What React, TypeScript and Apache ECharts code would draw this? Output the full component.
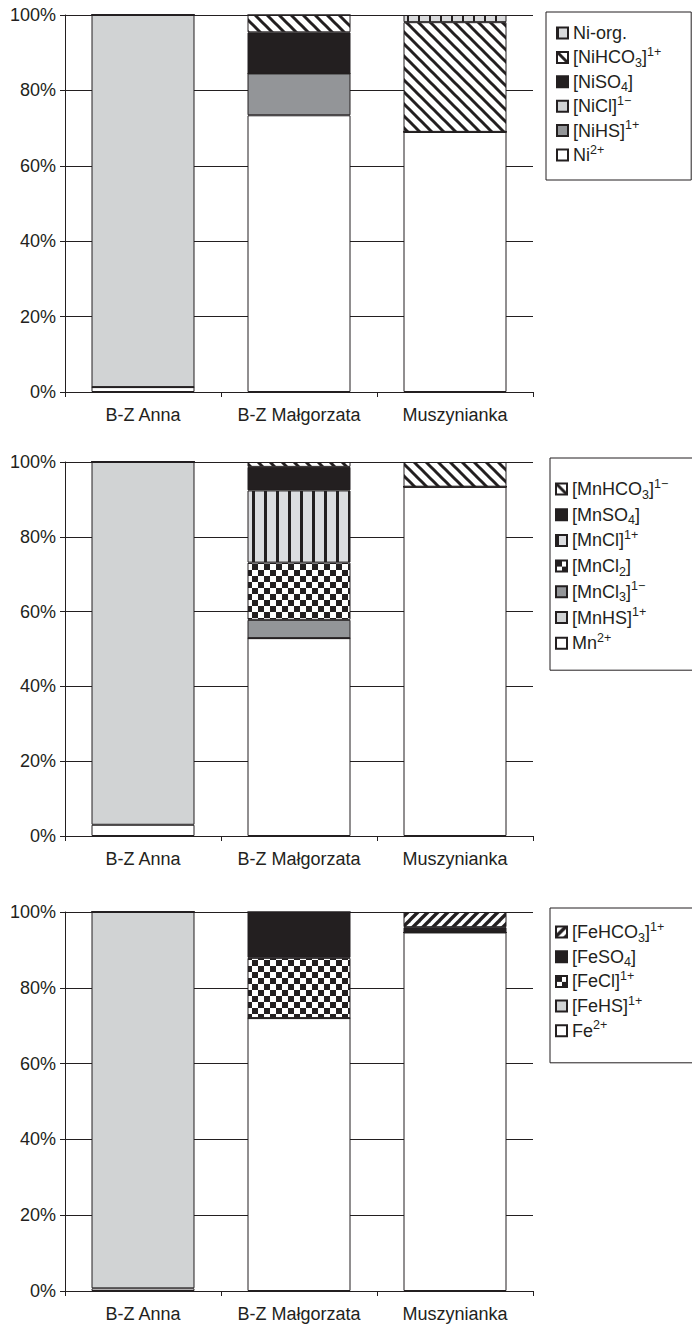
import React, { useEffect, useRef } from 'react';
import * as echarts from 'echarts';

// ---------- data ----------
const categories = ['B-Z Anna', 'B-Z Małgorzata', 'Muszynianka'];
const yMin = 0;
const yMax = 100;
const yStep = 20;

// Nickel (% of species), per category
const niNames = ['Ni2+', '[NiHS]1+', '[NiCl]1−', '[NiSO4]', '[NiHCO3]1+', 'Ni-org.'];
const niLabels = ['Ni{sup|2+}', '[NiHS]{sup|1+}', '[NiCl]{sup|1−}', '[NiSO{sub|4}]', '[NiHCO{sub|3}]{sup|1+}', 'Ni-org.'];
const niFree = [1.3, 73.4, 69.0];
const niHS = [0, 11.1, 0];
const niCl = [98.7, 0, 0];
const niSO4 = [0, 10.9, 0];
const niHCO3 = [0, 4.6, 29.1];
const niOrg = [0, 0, 1.9];

// Manganese
const mnNames = ['Mn2+', '[MnHS]1+', '[MnCl3]1−', '[MnCl2]', '[MnCl]1+', '[MnSO4]', '[MnHCO3]1−'];
const mnLabels = ['Mn{sup|2+}', '[MnHS]{sup|1+}', '[MnCl{sub|3}]{sup|1−}', '[MnCl{sub|2}]', '[MnCl]{sup|1+}', '[MnSO{sub|4}]', '[MnHCO{sub|3}]{sup|1−}'];
const mnFree = [3.0, 52.9, 93.4];
const mnHS = [97.0, 0, 0];
const mnCl3 = [0, 4.9, 0];
const mnCl2 = [0, 15.3, 0];
const mnCl = [0, 19.3, 0];
const mnSO4 = [0, 6.3, 0];
const mnHCO3 = [0, 1.3, 6.6];

// Iron
const feNames = ['Fe2+', '[FeHS]1+', '[FeCl]1+', '[FeSO4]', '[FeHCO3]1+'];
const feLabels = ['Fe{sup|2+}', '[FeHS]{sup|1+}', '[FeCl]{sup|1+}', '[FeSO{sub|4}]', '[FeHCO{sub|3}]{sup|1+}'];
const feFree = [0.7, 72.0, 94.6];
const feHS = [99.3, 0, 0];
const feCl = [0, 15.9, 0];
const feSO4 = [0, 12.1, 1.4];
const feHCO3 = [0, 0, 4.0];

// ---------- styling ----------
const INK = '#231f20';
const FONT = '"Liberation Sans", Arial, Helvetica, sans-serif';
const LIGHT = '#d1d3d4';
const MID = '#939598';
const FS = 18;

function tile(w: number, h: number, draw: (c: CanvasRenderingContext2D) => void) {
  const cv = document.createElement('canvas');
  cv.width = w;
  cv.height = h;
  const ctx = cv.getContext('2d')!;
  draw(ctx);
  return { image: cv, repeat: 'repeat' } as any;
}

function makePatterns() {
  const back = tile(12, 12, (c) => {
    c.fillStyle = '#fff';
    c.fillRect(0, 0, 12, 12);
    c.strokeStyle = INK;
    c.lineWidth = 3;
    for (const k of [-12, 0, 12]) {
      c.beginPath();
      c.moveTo(k - 2, -2);
      c.lineTo(k + 14, 14);
      c.stroke();
    }
  });
  const fwd = tile(10, 10, (c) => {
    c.fillStyle = '#fff';
    c.fillRect(0, 0, 10, 10);
    c.strokeStyle = INK;
    c.lineWidth = 3.4;
    for (const k of [-10, 0, 10]) {
      c.beginPath();
      c.moveTo(k - 2, 12);
      c.lineTo(k + 12, -2);
      c.stroke();
    }
  });
  const checker = tile(12, 12, (c) => {
    c.fillStyle = '#fff';
    c.fillRect(0, 0, 12, 12);
    c.fillStyle = INK;
    c.fillRect(0, 0, 6, 6);
    c.fillRect(6, 6, 6, 6);
  });
  const vbarsThin = tile(11, 4, (c) => {
    c.fillStyle = '#d9dadc';
    c.fillRect(0, 0, 11, 4);
    c.fillStyle = INK;
    c.fillRect(0, 0, 2, 4);
  });
  const vbars = tile(12, 4, (c) => {
    c.fillStyle = '#dcdde0';
    c.fillRect(0, 0, 12, 4);
    c.fillStyle = INK;
    c.fillRect(0, 0, 3, 4);
  });
  return { back, fwd, checker, vbarsThin, vbars };
}

const richText = {
  sup: { fontSize: 12.5, verticalAlign: 'top', fontFamily: FONT, color: INK },
  sub: { fontSize: 12.5, verticalAlign: 'bottom', fontFamily: FONT, color: INK },
};

export default function App() {
  const ref = useRef<HTMLDivElement>(null);

  useEffect(() => {
    if (!ref.current) return;
    const chart = echarts.init(ref.current, undefined, { renderer: 'svg' });
    const p = makePatterns();

    const grids = [
      { top: 15, height: 377 },
      { top: 462, height: 374 },
      { top: 912, height: 379 },
    ];

    const groups = [
      {
        stack: 'ni',
        names: niNames,
        labels: niLabels,
        values: [niFree, niHS, niCl, niSO4, niHCO3, niOrg],
        colors: ['#ffffff', MID, LIGHT, INK, p.back, p.vbarsThin],
        legend: { left: 546, top: 12, gap: 0.4, padding: [9, 30, 13, 10] },
      },
      {
        stack: 'mn',
        names: mnNames,
        labels: mnLabels,
        values: [mnFree, mnHS, mnCl3, mnCl2, mnCl, mnSO4, mnHCO3],
        colors: ['#ffffff', LIGHT, MID, p.checker, p.vbars, INK, p.back],
        legend: { left: 550, top: 458, gap: 1.7, padding: [19, 40, 15, 5] },
      },
      {
        stack: 'fe',
        names: feNames,
        labels: feLabels,
        values: [feFree, feHS, feCl, feSO4, feHCO3],
        colors: ['#ffffff', LIGHT, p.checker, INK, p.fwd],
        legend: { left: 550, top: 908, gap: 0.7, padding: [12, 40, 20, 5] },
      },
    ];

    const series: any[] = [];
    const legends: any[] = [];
    groups.forEach((g, gi) => {
      g.names.forEach((n, i) => {
        series.push({
          type: 'bar',
          name: n,
          stack: g.stack,
          xAxisIndex: gi,
          yAxisIndex: gi,
          barWidth: 103,
          data: g.values[i],
          itemStyle: { color: g.colors[i], borderColor: INK, borderWidth: 1 },
          emphasis: { disabled: true },
        });
      });
      const labelMap: Record<string, string> = {};
      g.names.forEach((n, i) => (labelMap[n] = g.labels[i]));
      legends.push({
        data: [...g.names].reverse(),
        orient: 'vertical',
        left: g.legend.left,
        top: g.legend.top,
        padding: g.legend.padding,
        itemGap: g.legend.gap,
        itemWidth: 11,
        itemHeight: 11,
        icon: 'rect',
        borderColor: INK,
        borderWidth: 1,
        selectedMode: false,
        formatter: (name: string) => labelMap[name],
        textStyle: { fontSize: FS, color: INK, fontFamily: FONT, lineHeight: 24, rich: richText },
      });
    });

    const axisLineStyle = { color: INK, width: 1 };
    const option: any = {
      animation: false,
      grid: grids.map((g) => ({ left: 65, width: 468, top: g.top, height: g.height })),
      xAxis: grids.map((_, gi) => ({
        type: 'category',
        gridIndex: gi,
        data: categories,
        axisLine: { show: true, lineStyle: axisLineStyle },
        axisTick: { show: true, length: 5, lineStyle: axisLineStyle },
        axisLabel: { fontSize: FS, color: INK, fontFamily: FONT, margin: 14, interval: 0, hideOverlap: false },
        splitLine: { show: false },
      })),
      yAxis: grids.map((_, gi) => ({
        type: 'value',
        gridIndex: gi,
        min: yMin,
        max: yMax,
        interval: yStep,
        axisLine: { show: true, lineStyle: axisLineStyle },
        axisTick: { show: true, length: 5, lineStyle: axisLineStyle },
        axisLabel: { fontSize: FS, color: INK, fontFamily: FONT, margin: 9, formatter: '{value}%' },
        splitLine: { show: true, lineStyle: axisLineStyle },
      })),
      legend: legends,
      series,
    };
    chart.setOption(option);
    return () => chart.dispose();
  }, []);

  return (
    <div
      ref={ref}
      style={{ position: 'absolute', left: 0, top: 0, width: 692, height: 1327, background: '#fff' }}
    />
  );
}
